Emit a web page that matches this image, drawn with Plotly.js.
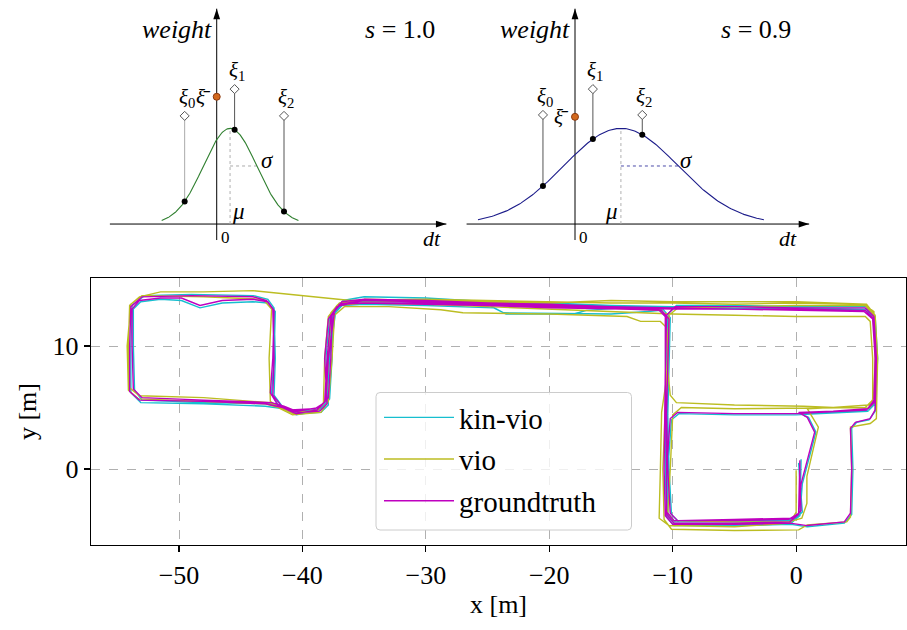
<!DOCTYPE html>
<html><head><meta charset="utf-8">
<script src="https://cdn.plot.ly/plotly-3.0.1.min.js"></script>
<style>html,body{margin:0;padding:0;background:#fff}#chart{width:907px;height:630px}</style>
</head><body><div id="chart"></div>
<script>
// ---------------- data ----------------
const seriesNames = ['kin-vio', 'vio', 'groundtruth'];
const xTicks = [-50, -40, -30, -20, -10, 0];
const yTicks = [0, 10];

const gtPts = [
[0.3,0.7],[0.3,-1.0],[0.4,-3.4],[-0.2,-4.0],
[-5,-4.1],[-9.6,-4.2],[-10.2,-3.6],
[-10.4,0],[-10.5,4.5],[-10.4,9],[-10.3,12.2],[-10.9,12.9],
[-14,13.0],[-20,13.1],[-25,13.3],[-30,13.4],[-35,13.5],[-36.9,13.4],[-37.6,12.6],
[-37.7,9],[-37.9,5.8],[-38.6,5.0],
[-40.5,4.7],[-41.5,5.1],[-42.5,5.4],
[-48,5.6],[-53.0,5.8],[-53.7,6.5],
[-53.8,10],[-53.8,13.0],[-53.2,13.7],
[-51.5,13.9],[-49.8,13.9],[-48.3,13.3],[-46.5,13.7],[-44,13.8],[-42.8,13.6],[-42.3,12.9],
[-42.4,9],[-42.6,6.2],[-42.0,5.2],[-41,4.8],
[-39,4.9],[-38.2,5.4],
[-38.0,9],[-37.7,12.3],[-37.0,13.4],[-35,13.7],
[-30,13.6],[-25,13.4],[-20,13.3],[-15,13.1],[-10,13.0],[-5,13.0],[0,12.9],[5.5,12.8],[6.2,12.2],
[6.4,9],[6.3,5.4],[5.7,4.8],
[2,4.6],[0,4.5],[-5,4.5],[-9.6,4.6],[-10.2,4.1],
[-10.5,0],[-10.5,-3.7],[-9.9,-4.4],
[-5,-4.4],[-0.5,-4.3],[0.2,-3.7],
[0.4,-1.2],[1.5,3.0],[0.9,4.2],[0.2,4.6],
[3,4.7],[5.8,4.9],[6.3,5.6],[6.5,9],[6.3,12.4],[5.6,13.1],
[0,13.1],[-5,13.2],[-9.8,13.2],[-10.5,12.5],
[-10.6,8],[-10.7,0],[-10.6,-3.8],[-10.0,-4.5],
[-5,-4.5],[-0.5,-4.4],[0.9,-4.6],[3.9,-4.3],[4.4,-3.6],
[4.5,0],[4.4,3.3],[4.8,3.8],[6.0,4.1],[6.4,4.8],[6.5,9],[6.3,12.2],[5.6,12.9],
[0,13.0],[-5,13.0],[-10,13.1],[-15,13.2],[-20,13.4],[-25,13.5],[-30,13.7],[-35,13.8],[-36.8,13.6],[-37.4,12.8],
[-37.9,9],[-38.1,5.6],[-38.8,4.8],
[-40.5,4.5],[-41.6,5.0],[-43,5.3],[-48,5.5],[-53.2,5.6],[-54.0,6.3],
[-54.0,10],[-53.9,13.2],[-53.0,14.0],
[-49,14.1],[-44,14.0],[-42.9,13.7],[-42.4,13.0],
[-42.3,9],[-42.4,6.0],[-41.6,5.0],[-40.3,4.6],
[-38.6,4.7],[-38.0,5.3],
[-38.2,9],[-37.9,12.2],[-37.2,13.2],[-36,13.5],
[-30,13.5],[-25,13.3],[-20,13.2],[-15,13.1],[-11.2,13.0],[-10.6,12.4],
[-10.6,8],[-10.5,0],[-10.5,-3.5],[-9.9,-4.2],
[-5,-4.2],[-0.6,-4.1],[0.2,-3.6],[0.3,0.7]
];

const kinPts = [
[0.2,0.5],[0.3,-1.1],[0.5,-3.5],[-0.1,-4.1],
[-5,-4.2],[-9.5,-4.3],[-10.1,-3.7],
[-10.3,0],[-10.4,4.4],[-10.3,9],[-10.2,12.3],[-10.8,13.0],
[-14,13.1],[-17,12.9],[-18,12.6],[-23.5,12.6],[-24.5,13.1],[-30,13.3],[-35,13.4],[-36.8,13.3],[-37.5,12.5],
[-37.6,9],[-37.8,5.7],[-38.5,4.9],
[-40.5,4.6],[-41.4,5.0],[-42.4,5.3],
[-48,5.4],[-53.0,5.6],[-53.6,6.4],
[-53.7,10],[-53.7,13.0],[-53.1,13.6],
[-51.5,13.8],[-49.8,13.7],[-48.3,13.1],[-46.5,13.5],[-44,13.6],[-42.8,13.5],[-42.2,12.8],
[-42.3,9],[-42.5,6.1],[-41.9,5.1],[-40.9,4.7],
[-38.9,4.8],[-38.1,5.3],
[-37.9,9],[-37.6,12.3],[-36.9,13.4],[-35,13.7],
[-30,13.7],[-25,13.5],[-20,13.4],[-15,13.2],[-10,13.1],[-5,13.0],[0,13.0],[5.6,12.9],[6.3,12.3],
[6.5,9],[6.4,5.3],[5.8,4.7],
[2,4.5],[0,4.4],[-5,4.4],[-9.5,4.5],[-10.1,4.0],
[-10.4,0],[-10.4,-3.8],[-9.8,-4.5],
[-5,-4.5],[-0.4,-4.4],[0.3,-3.8],
[0.5,-1.2],[1.6,3.0],[1.0,4.2],[0.3,4.5],
[3,4.6],[5.9,4.8],[6.4,5.5],[6.6,9],[6.4,12.4],[5.7,13.2],
[0,13.2],[-5,13.3],[-9.7,13.3],[-10.4,12.6],
[-10.5,8],[-10.6,0],[-10.5,-3.9],[-9.9,-4.6],
[-5,-4.6],[-0.4,-4.5],[0.9,-4.7],[3.9,-4.4],[4.5,-3.7],
[4.6,0],[4.5,3.3],[4.9,3.8],[5.9,4.0],[6.4,4.7],[6.6,9],[6.4,12.2],[5.7,13.0],
[0,13.1],[-5,13.1],[-10,13.2],[-15,13.3],[-20,13.5],[-25,13.6],[-30,13.9],[-35,14.0],[-36.7,13.7],[-37.3,12.9],
[-37.8,9],[-38.0,5.5],[-38.7,4.7],
[-40.5,4.4],[-41.5,4.9],[-43,5.1],[-48,5.3],[-53.1,5.4],[-53.9,6.2],
[-53.9,10],[-53.8,13.3],[-52.8,14.1],
[-49,14.2],[-44,14.1],[-42.8,13.8],[-42.3,13.1],
[-42.2,9],[-42.3,6.0],[-41.5,4.9],[-40.2,4.5],
[-38.5,4.6],[-37.9,5.2],
[-38.1,9],[-37.8,12.3],[-37.1,13.3],[-36,13.6],
[-30,13.6],[-25,13.4],[-23.7,12.7],[-15,12.6],[-12,12.8],[-11.0,12.9],[-10.5,12.3],
[-10.5,8],[-10.4,0],[-10.4,-3.6],[-9.8,-4.3],
[-5,-4.3],[-0.5,-4.2],[0.3,-3.7],[0.4,0.8]
];

const vioPts = [
[0.0,-0.1],[0.0,-3.5],[-0.5,-4.4],[-5,-4.7],[-10.3,-4.6],[-11.1,-4.0],
[-11.0,0],[-10.9,4.6],[-10.4,8.0],[-10.3,12.2],[-10.9,12.9],
[-15,13.1],[-20,13.3],[-25,13.5],[-30,13.6],[-35,13.7],[-37.0,13.5],[-37.7,12.7],
[-37.9,9],[-38.1,5.6],[-38.8,4.8],
[-40.7,4.5],[-41.7,5.0],[-42.7,5.4],[-48,5.8],[-53.2,5.96],[-54.0,6.6],
[-54.1,10],[-54.0,13.3],[-53.2,14.0],[-51.5,14.4],[-48,14.4],[-44,14.5],[-40,14.1],[-36.1,13.7],
[-30,13.8],[-25,13.7],[-20,13.6],[-15,13.5],[-10,13.5],[-5,13.4],[0,13.5],[5.5,13.4],[6.3,12.8],
[6.4,9],[6.3,5.8],[5.9,5.2],
[3,5.0],[0.6,5.1],[-5,5.2],[-9.7,5.4],[-10.2,6.0],[-10.4,8.0],[-10.5,11.5],[-11.0,12.0],
[-12.6,12.0],[-13.7,12.4],[-20,12.6],[-27,12.7],[-28.8,12.95],[-33,13.2],[-36.6,13.2],[-37.4,12.5],
[-37.6,9],[-37.9,5.5],[-38.5,4.6],[-40.8,4.4],[-41.8,4.9],[-42.6,5.5],[-42.7,9],[-42.5,13.0],
[-43.2,13.8],[-48,14.0],[-53.0,14.1],[-53.9,13.4],[-54.2,10],[-54.1,6.4],[-53.3,5.7],[-48,5.5],
[-43,5.3],[-41.2,4.8],[-38.9,4.6],[-38.3,5.3],[-38.2,9],[-37.9,12.4],[-37.2,13.3],[-35,13.5],
[-30,13.4],[-25,13.2],[-20,13.0],[-15,12.8],[-10,12.6],[-5,12.5],[0,12.4],[5.6,12.4],[6.0,12.0],
[6.2,9],[6.2,5.6],[5.6,5.0],[0,4.95],[-5,4.9],[-9.3,5.0],[-10.0,4.4],[-10.2,0],[-10.4,-3.6],
[-9.9,-4.2],[-5,-4.3],[-0.6,-4.3],[0.46,-4.0],[0.87,-2.8],[0.87,-0.6],[1.8,3.4],[0.9,4.9],
[3,5.0],[5.9,4.95],[6.4,5.5],[6.5,9],[6.2,12.6],[5.6,13.3],[0,13.3],[-5,13.2],[-9.6,13.1],
[-10.3,12.5],[-10.5,8],[-10.8,0],[-10.7,-4.1],[-10.1,-4.9],[-5,-5.0],[0.2,-4.95],[0.9,-4.55],
[4.1,-4.3],[4.4,-3.9],[4.5,0],[4.4,3.4],[6.0,3.7],[6.5,4.1],[6.6,9],[6.4,12.5],[5.7,13.4],
[0,13.6],[-5,13.6],[-10,13.6],[-15,13.7],[-20,13.5],[-25,13.6],[-30,13.7],[-35,13.8]
];

// schematic weight diagrams
const xiPos = [-1.2, 0.67, 2.52];
const xiTop = [[1.13, 1.41, 1.13], [1.14, 1.41, 1.14]];
const xiSubs = ['0', '1', '2'];
const muVals = [0.5, 1.72];
const sigmaVals = [1.0, 2.15];
const spanVals = [2.56, 2.49];
const sVals = ['1.0', '0.9'];
const xiBarVals = [1.33, 1.12];

// ---------------- styles ----------------
const FONT = 'Liberation Serif, Times New Roman, serif';
const seriesColors = ['#17becf', '#bcbd22', '#bf00bf'];
const curveColors = ['#2f7f2f', '#1c1c8a'];
const sigmaLineColors = ['#aaaaaa', '#4a4aa8'];
const stemColors = [['#aaaaaa', '#555555', '#555555'], ['#555555', '#555555', '#555555']];

const traces = [];
const seriesPts = [kinPts, vioPts, gtPts];
seriesPts.forEach((pts, i) => {
  traces.push({
    type: 'scatter', mode: 'lines', name: seriesNames[i],
    x: pts.map(p => p[0]), y: pts.map(p => p[1]),
    xaxis: 'x', yaxis: 'y', legendgroup: 'g' + i,
    line: {color: seriesColors[i], width: 1.4},
    hoverinfo: 'skip'
  });
});

const annotations = [];
const shapes = [];
const gauss = (x, mu, s) => Math.exp(-0.5 * Math.pow((x - mu) / s, 2));

[0, 1].forEach(p => {
  const xa = p === 0 ? 'x2' : 'x3';
  const ya = p === 0 ? 'y2' : 'y3';
  const mu = muVals[p], sg = sigmaVals[p];
  const cx = [], cy = [];
  const a = mu - spanVals[p] * sg, b = mu + spanVals[p] * sg;
  for (let k = 0; k <= 200; k++) {
    const x = a + (b - a) * k / 200;
    cx.push(x); cy.push(gauss(x, mu, sg));
  }
  // axis lines of the schematic
  const xr = p === 0 ? [-4.0, 8.6] : [-4.06, 8.77];
  shapes.push({type: 'line', xref: xa, yref: ya, x0: xr[0], x1: xr[1], y0: 0, y1: 0, line: {color: '#000', width: 1}, layer: 'below'});
  shapes.push({type: 'line', xref: xa, yref: ya, x0: 0, x1: 0, y0: -0.167, y1: 2.25, line: {color: '#000', width: 1}, layer: 'below'});
  traces.push({type: 'scatter', mode: 'markers', x: [xr[1], 0], y: [0, 2.25], xaxis: xa, yaxis: ya, showlegend: false, hoverinfo: 'skip',
    marker: {symbol: 'arrow', size: 11, angle: [90, 0], color: '#000', line: {width: 0}}});
  // dotted mu / sigma guides
  traces.push({type: 'scatter', mode: 'lines', x: [mu, mu], y: [0, 1], xaxis: xa, yaxis: ya, showlegend: false, hoverinfo: 'skip', line: {color: '#b0b0b0', width: 1, dash: 'dot'}});
  traces.push({type: 'scatter', mode: 'lines', x: [mu, mu + sg], y: [gauss(mu + sg, mu, sg), gauss(mu + sg, mu, sg)], xaxis: xa, yaxis: ya, showlegend: false, hoverinfo: 'skip', line: {color: sigmaLineColors[p], width: 1, dash: 'dot'}});
  // gaussian
  traces.push({type: 'scatter', mode: 'lines', x: cx, y: cy, xaxis: xa, yaxis: ya, showlegend: false, hoverinfo: 'skip', line: {color: curveColors[p], width: 1.1}});
  // stems
  xiPos.forEach((xv, i) => {
    traces.push({type: 'scatter', mode: 'lines', x: [xv, xv], y: [gauss(xv, mu, sg), xiTop[p][i]], xaxis: xa, yaxis: ya, showlegend: false, hoverinfo: 'skip', line: {color: stemColors[p][i], width: 1}});
  });
  traces.push({type: 'scatter', mode: 'markers', x: xiPos, y: xiTop[p], xaxis: xa, yaxis: ya, showlegend: false, hoverinfo: 'skip', marker: {symbol: 'diamond', size: 7, color: '#fff', line: {color: '#555', width: 1}}});
  traces.push({type: 'scatter', mode: 'markers', x: xiPos, y: xiPos.map(v => gauss(v, mu, sg)), xaxis: xa, yaxis: ya, showlegend: false, hoverinfo: 'skip', marker: {symbol: 'circle', size: 6, color: '#000'}});
  traces.push({type: 'scatter', mode: 'markers', x: [0], y: [xiBarVals[p]], xaxis: xa, yaxis: ya, showlegend: false, hoverinfo: 'skip', marker: {symbol: 'circle', size: 7, color: '#d2691e', line: {color: '#8b3a10', width: 1}}});

  const txt = (x, y, text, size, xanchor) => annotations.push({xref: xa, yref: ya, x, y, text, showarrow: false, font: {family: FONT, size, color: '#000'}, xanchor: xanchor || 'center', yanchor: 'middle'});
  txt(-0.1, 2.03, '<i>weight</i>', 26, 'right');
  txt(p === 0 ? 6.87 : 6.78, 2.03, '<i>s</i> = ' + sVals[p], 26);
  txt(0.32, -0.14, '0', 17);
  txt(p === 0 ? 8.07 : 7.98, -0.15, '<i>dt</i>', 22);
  txt(p === 0 ? mu + 0.32 : mu - 0.35, 0.13, '<i>μ</i>', 23);
  txt(mu + sg + (p === 0 ? 0.4 : 0.32), gauss(mu + sg, mu, sg) + 0.06, '<i>σ</i>', 23);
  xiPos.forEach((xv, i) => txt(xv + 0.08, xiTop[p][i] + 0.19, '<i>ξ</i><sub>' + xiSubs[i] + '</sub>', 21));
  txt(-0.15, xiBarVals[p], '<i>ξ\u0304</i>', 21, 'right');
});

// rounded legend frame
const lx0 = 376 / 907, lx1 = 631.5 / 907, ly1 = 1 - 392.5 / 630, ly0 = 1 - 530 / 630;
const rx = 4 / 907, ry = 4 / 630;
shapes.push({
  type: 'path', xref: 'paper', yref: 'paper', layer: 'above',
  path: `M${lx0 + rx},${ly1} L${lx1 - rx},${ly1} Q${lx1},${ly1} ${lx1},${ly1 - ry} L${lx1},${ly0 + ry} Q${lx1},${ly0} ${lx1 - rx},${ly0} L${lx0 + rx},${ly0} Q${lx0},${ly0} ${lx0},${ly0 + ry} L${lx0},${ly1 - ry} Q${lx0},${ly1} ${lx0 + rx},${ly1} Z`,
  fillcolor: 'rgba(255,255,255,0.8)', line: {color: '#cccccc', width: 1}
});

const layout = {
  width: 907, height: 630,
  margin: {l: 0, r: 0, t: 0, b: 0},
  paper_bgcolor: '#ffffff', plot_bgcolor: 'rgba(0,0,0,0)',
  font: {family: FONT, color: '#000'},
  showlegend: true,
  xaxis: {
    domain: [91 / 907, 906 / 907], range: [-57.13, 8.9], anchor: 'y',
    tickmode: 'array', tickvals: xTicks, ticks: 'outside', ticklen: 6, tickwidth: 1.2, tickcolor: '#000',
    showline: true, mirror: true, linecolor: '#000', linewidth: 1.3,
    showgrid: true, gridcolor: '#b0b0b0', griddash: 'dash', gridwidth: 1, zeroline: false,
    tickfont: {family: FONT, size: 26}, automargin: false,
    title: {text: 'x [m]', font: {family: FONT, size: 26}, standoff: 6}
  },
  yaxis: {
    domain: [1 - 545 / 630, 1 - 278 / 630], range: [-6.18, 15.53], anchor: 'x',
    tickmode: 'array', tickvals: yTicks, ticks: 'outside', ticklen: 6, tickwidth: 1.2, tickcolor: '#000',
    showline: true, mirror: true, linecolor: '#000', linewidth: 1.3,
    showgrid: true, gridcolor: '#b0b0b0', griddash: 'dash', gridwidth: 1, zeroline: false,
    tickfont: {family: FONT, size: 26}, automargin: false,
    title: {text: 'y [m]', font: {family: FONT, size: 26}, standoff: 8}
  },
  xaxis2: {domain: [100 / 907, 460 / 907], range: [-4.37, 9.11], anchor: 'y2', visible: false, fixedrange: true},
  yaxis2: {domain: [1 - 245 / 630, 1], range: [-0.219, 2.341], anchor: 'x2', visible: false, fixedrange: true},
  xaxis3: {domain: [460 / 907, 820 / 907], range: [-4.307, 9.176], anchor: 'y3', visible: false, fixedrange: true},
  yaxis3: {domain: [1 - 245 / 630, 1], range: [-0.219, 2.341], anchor: 'x3', visible: false, fixedrange: true},
  legend: {
    x: 379 / 907, y: 1 - 392 / 630, xanchor: 'left', yanchor: 'top',
    bgcolor: 'rgba(0,0,0,0)', borderwidth: 0,
    font: {family: FONT, size: 29, color: '#000'},
    itemwidth: 70, traceorder: 'grouped', tracegroupgap: 1
  },
  shapes, annotations
};

Plotly.newPlot('chart', traces, layout, {staticPlot: true, displayModeBar: false});
</script>
</body></html>
